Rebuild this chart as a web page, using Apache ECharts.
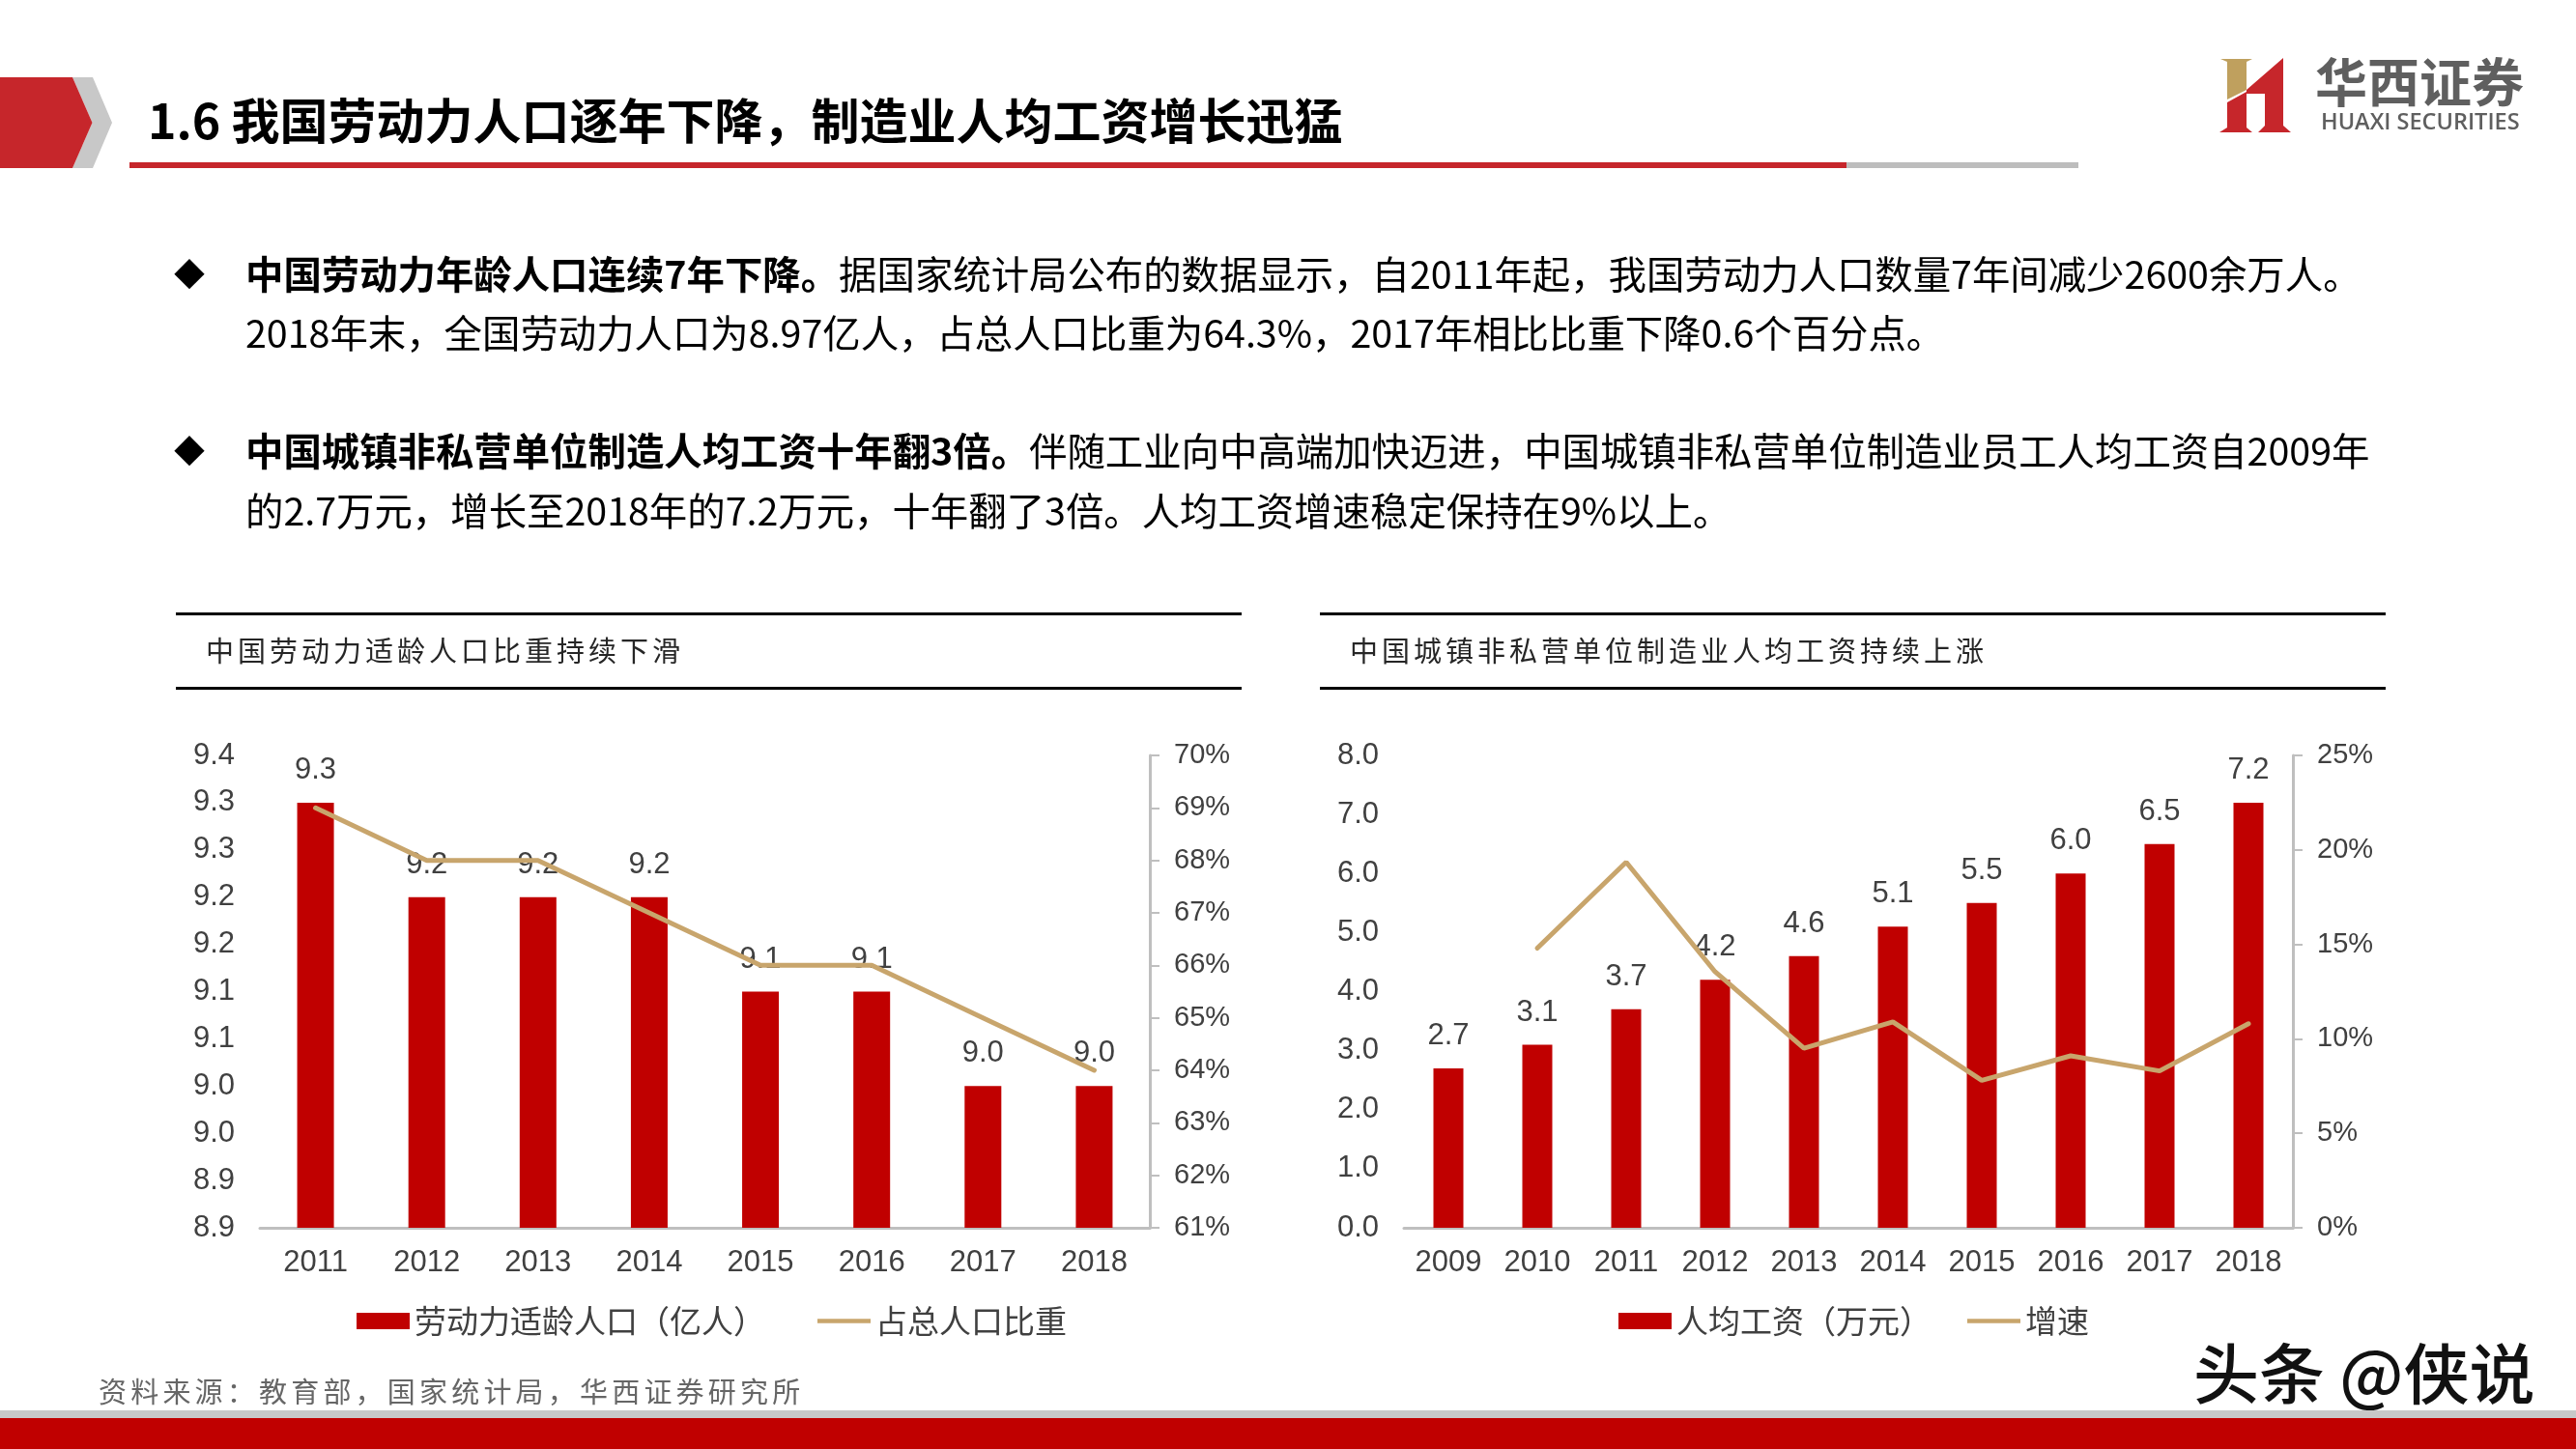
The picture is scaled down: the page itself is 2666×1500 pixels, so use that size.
<!DOCTYPE html>
<html>
<head>
<meta charset="utf-8">
<title>1.6</title>
<script src="https://cdn.jsdelivr.net/npm/echarts@6/dist/echarts.min.js"></script>
<style>
html,body{margin:0;padding:0;background:#fff;}
#main{width:2666px;height:1500px;}
</style>
</head>
<body>
<div id="main"></div>
<script>
// left chart
var popYears = ['2011','2012','2013','2014','2015','2016','2017','2018'];
var popValues = [9.3,9.2,9.2,9.2,9.1,9.1,9.0,9.0];
var popShare = [69,68,68,67,66,66,65,64];
var popTicks = ['8.9','8.9','9.0','9.0','9.1','9.1','9.2','9.2','9.3','9.3','9.4'];
// right chart
var wageYears = ['2009','2010','2011','2012','2013','2014','2015','2016','2017','2018'];
var wageValues = [2.7,3.1,3.7,4.2,4.6,5.1,5.5,6.0,6.5,7.2];
var wageGrowth = [null,14.8,19.35,13.55,9.5,10.9,7.8,9.1,8.3,10.8];

var RED = '#C00000', TAN = '#C8A56C', AXIS = '#BFBFBF', TXT = '#404040';
var SANS = '"Liberation Sans", Arial, sans-serif';
var CJK = '"Noto Sans CJK SC", "Liberation Sans", sans-serif';

var chart = echarts.init(document.getElementById('main'));

function poly(points, fill){
    return {type:'polygon',silent:true,shape:{points:points},style:{fill:fill}};
}
function rect(x,y,w,h,fill){
    return {type:'rect',silent:true,shape:{x:x,y:y,width:w,height:h},style:{fill:fill}};
}
function label(x,y,text,size,color,weight,family){
    return {type:'text',silent:true,x:x,y:y,style:{text:text,fontSize:size,fill:color,fontWeight:weight||'normal',fontFamily:family||CJK,verticalAlign:'middle',align:'left'}};
}
// 字距拉开的标题，一个字一个元素
function spaced(x,y,text,step,size,color){
    return text.split('').map(function(c,i){
        return label(x+i*step,y,c,size,color);
    });
}
// 正文一行: 粗体部分 + 常规部分
function para(x,y,bold,rest){
    var t = (bold?'{b|'+bold+'}':'')+'{n|'+rest+'}';
    return {type:'text',silent:true,x:x,y:y,style:{text:t,verticalAlign:'middle',align:'left',
        rich:{
            b:{fontSize:39.4,fontWeight:'bold',fill:'#000',fontFamily:CJK},
            n:{fontSize:39.4,fill:'#000',fontFamily:CJK}
        }}};
}

var graphic = [
    // header
    poly([[75,80],[96,80],[116,127],[96,174],[75,174],[95.5,127]],'#C8C8C8'),
    poly([[0,80],[75,80],[95.5,127],[75,174],[0,174]],'#C6262B'),
    rect(134,168,1777,6,'#C6262B'),
    rect(1911,168,240,6,'#BDBDBD'),
    label(153,125,'1.6 我国劳动力人口逐年下降，制造业人均工资增长迅猛',50,'#000','bold'),
    // logo
    poly([[2298,61],[2331,61],[2325,64],[2325,93],[2305,103],[2305,64]],'#BFA05E'),
    poly([[2305,106],[2325,95],[2325,132],[2331,137],[2297,137],[2305,132]],'#C6262B'),
    poly([[2325,93],[2363,60],[2363,130],[2371,137],[2337,137],[2344,130],[2344,97],[2325,97]],'#C6262B'),
    label(2396,85,'华西证券',54,'#5F5F5F','bold'),
    label(2402,127,'HUAXI SECURITIES',23.5,'#5F5F5F','600','"Open Sans", sans-serif'),
    // bullets
    label(180,284,'◆',32,'#000'),
    para(254,284,'中国劳动力年龄人口连续7年下降。','据国家统计局公布的数据显示，自2011年起，我国劳动力人口数量7年间减少2600余万人。'),
    para(254,345,'','2018年末，全国劳动力人口为8.97亿人，占总人口比重为64.3%，2017年相比比重下降0.6个百分点。'),
    label(180,467,'◆',32,'#000'),
    para(254,467,'中国城镇非私营单位制造人均工资十年翻3倍。','伴随工业向中高端加快迈进，中国城镇非私营单位制造业员工人均工资自2009年'),
    para(254,529,'','的2.7万元，增长至2018年的7.2万元，十年翻了3倍。人均工资增速稳定保持在9%以上。'),
    // panel rules
    rect(182,634,1103,3,'#000'),
    rect(182,711,1103,3,'#000'),
    rect(1366,634,1103,3,'#000'),
    rect(1366,711,1103,3,'#000'),
    // footer
    rect(0,1460,2666,8,'#C8C8C8'),
    rect(0,1468,2666,32,RED),
    label(2270,1422,'头条 @侠说',68,'#111','500')
].concat(
    spaced(213,674,'中国劳动力适龄人口比重持续下滑',33,29,'#262626'),
    spaced(1397,674,'中国城镇非私营单位制造业人均工资持续上涨',33,29,'#262626'),
    spaced(102,1441,'资料来源：教育部，国家统计局，华西证券研究所',33.2,29,'#666')
);

function xAxis(idx,cats){
    return {type:'category',gridIndex:idx,data:cats,
        axisLine:{lineStyle:{color:AXIS,width:3}},axisTick:{show:false},
        axisLabel:{color:TXT,fontSize:31,fontFamily:SANS,margin:21}};
}
function leftAxis(idx,min,max,step,fmt){
    return {type:'value',gridIndex:idx,min:min,max:max,interval:step,position:'left',
        axisLine:{show:false},axisTick:{show:false},splitLine:{show:false},
        axisLabel:{color:TXT,fontSize:31,fontFamily:SANS,margin:26,padding:[3,0,0,0],formatter:fmt}};
}
function rightAxis(idx,min,max,step){
    return {type:'value',gridIndex:idx,min:min,max:max,interval:step,position:'right',
        axisLine:{show:true,lineStyle:{color:AXIS,width:3}},
        axisTick:{show:true,length:10,lineStyle:{color:AXIS,width:2}},splitLine:{show:false},
        axisLabel:{color:TXT,fontSize:29,fontFamily:SANS,margin:25,padding:[3,0,0,0],formatter:'{value}%'}};
}
function bar(name,idx,data,width){
    return {name:name,type:'bar',xAxisIndex:idx,yAxisIndex:idx*2,data:data,barWidth:width,
        itemStyle:{color:RED},
        label:{show:true,position:'top',distance:18,color:TXT,fontSize:31,fontFamily:SANS,
            formatter:function(p){return p.value.toFixed(1);}}};
}
function line(name,idx,data){
    return {name:name,type:'line',xAxisIndex:idx,yAxisIndex:idx*2+1,data:data,symbol:'none',
        connectNulls:false,z:3,lineStyle:{color:TAN,width:5,cap:'round'},itemStyle:{color:TAN}};
}
function legend(left,gap,names){
    return {left:left,top:1346,itemWidth:55,itemHeight:17,itemGap:gap,selectedMode:false,
        textStyle:{color:TXT,fontSize:33,fontFamily:CJK},
        data:[{name:names[0],icon:'rect'},{name:names[1],icon:'path://M0 0H55V4.5H0Z'}]};
}

chart.setOption({
    animation:false,
    backgroundColor:'#fff',
    textStyle:{fontFamily:SANS},
    graphic:graphic,
    legend:[
        legend(364,54,['劳动力适龄人口（亿人）','占总人口比重']),
        legend(1670,37,['人均工资（万元）','增速'])
    ],
    grid:[
        {left:269,width:921,top:782,height:489},
        {left:1453,width:920,top:782,height:489}
    ],
    xAxis:[xAxis(0,popYears),xAxis(1,wageYears)],
    yAxis:[
        leftAxis(0,8.85,9.35,0.05,function(v,i){return popTicks[i];}),
        rightAxis(0,61,70,1),
        leftAxis(1,0,8,1,function(v){return v.toFixed(1);}),
        rightAxis(1,0,25,5)
    ],
    series:[
        bar('劳动力适龄人口（亿人）',0,popValues,38),
        line('占总人口比重',0,popShare),
        bar('人均工资（万元）',1,wageValues,31),
        line('增速',1,wageGrowth)
    ]
});
</script>
</body>
</html>
